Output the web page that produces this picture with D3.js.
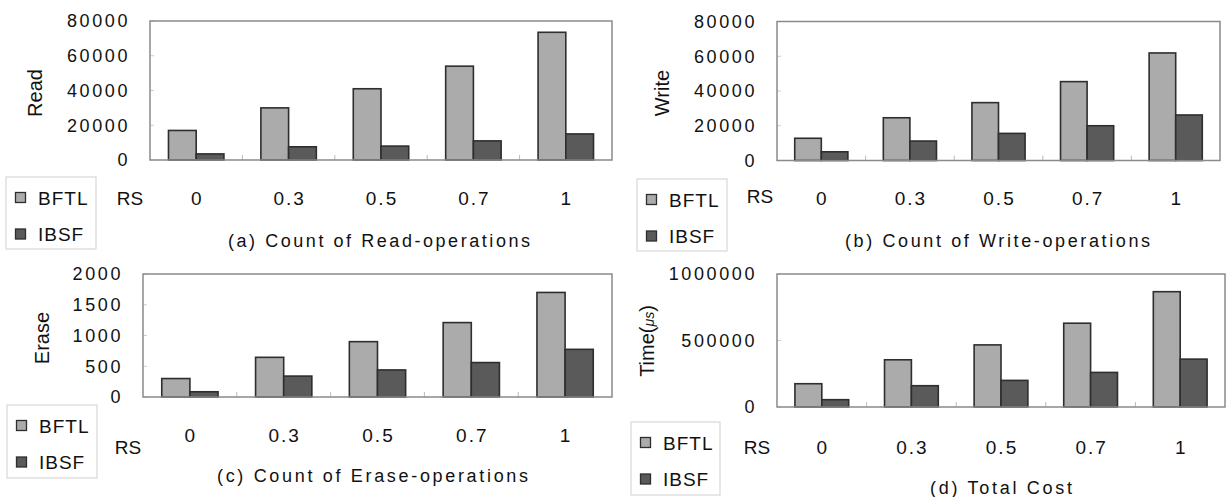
<!DOCTYPE html>
<html>
<head>
<meta charset="utf-8">
<script src="https://cdn.jsdelivr.net/npm/d3@7"></script>
<style>
  body { margin: 0; background: #fff; }
  svg { display: block; }
  text { font-family: "Liberation Sans", Arial, sans-serif; fill: #111; }
</style>
</head>
<body>
<svg width="1226" height="497"></svg>
<script>
const rsLabels = ['0', '0.3', '0.5', '0.7', '1']
const seriesNames = ['BFTL', 'IBSF']

// values
const readBFTL = [17000, 30000, 41000, 54000, 73500]
const readIBSF = [3500, 7600, 8000, 11000, 15000]
const writeBFTL = [12800, 24600, 33300, 45400, 61900]
const writeIBSF = [5000, 11200, 15600, 20000, 26200]
const eraseBFTL = [300, 645, 900, 1210, 1700]
const eraseIBSF = [85, 340, 440, 560, 775]
const timeBFTL = [175000, 355000, 467000, 630000, 867000]
const timeIBSF = [55000, 160000, 200000, 260000, 360000]

const countTicks = [0, 20000, 40000, 60000, 80000]
const eraseTicks = [0, 500, 1000, 1500, 2000]
const timeTicks = [0, 500000, 1000000]

const fills = { BFTL: '#ababab', IBSF: '#5a5a5a' }

const panels = [
  { x0: 150, x1: 612, y0: 21, y1: 160, ticks: countTicks, bftl: readBFTL, ibsf: readIBSF,
    title: 'Read', tx: 35, ty: 93, catY: 198, rsX: 130, rsY: 198,
    legend: { x: 6, y: 177, w: 90, h: 72 },
    caption: '(a) Count of Read-operations', cx0: 228, cx1: 530, cy: 241 },
  { x0: 777, x1: 1220, y0: 21.5, y1: 160.5, ticks: countTicks, bftl: writeBFTL, ibsf: writeIBSF,
    title: 'Write', tx: 662, ty: 93, catY: 198, rsX: 760, rsY: 196,
    legend: { x: 637, y: 179, w: 90, h: 72 },
    caption: '(b) Count of Write-operations', cx0: 845, cx1: 1150, cy: 241 },
  { x0: 143, x1: 612, y0: 274, y1: 397, ticks: eraseTicks, bftl: eraseBFTL, ibsf: eraseIBSF,
    title: 'Erase', tx: 42, ty: 338, catY: 435, rsX: 128, rsY: 447,
    legend: { x: 7, y: 405, w: 90, h: 73 },
    caption: '(c) Count of Erase-operations', cx0: 217, cx1: 528, cy: 476 },
  { x0: 777, x1: 1225, y0: 274, y1: 407, ticks: timeTicks, bftl: timeBFTL, ibsf: timeIBSF,
    title: 'Time', tx: 647, ty: 341, catY: 447, rsX: 757, rsY: 447,
    legend: { x: 631, y: 422, w: 89, h: 73 },
    caption: '(d) Total Cost', cx0: 930, cx1: 1072, cy: 488 }
]

const svg = d3.select('svg')

panels.forEach(p => {
  let g = svg.append('g')

  let x = d3.scaleBand()
            .domain(rsLabels)
            .range([p.x0, p.x1])
            .paddingInner(0.4)
            .paddingOuter(0.2)

  let xs = d3.scaleBand()
             .domain(seriesNames)
             .range([0, x.bandwidth()])

  let y = d3.scaleLinear()
            .domain([0, d3.max(p.ticks)])
            .range([p.y1, p.y0])

  // y axis labels
  let yAxis = d3.axisLeft(y)
                .tickValues(p.ticks)
                .tickSize(0)
                .tickPadding(20)
                .tickFormat(d3.format('d'))

  g.append('g')
      .attr('transform', `translate(${p.x0}, 0)`)
      .call(yAxis)
      .call(a => a.select('.domain').remove())
      .selectAll('text')
        .style('font-family', '"Liberation Sans", Arial, sans-serif')
        .style('font-size', '18px')
        .style('letter-spacing', '2.6px')
        .attr('fill', '#111')

  // small inner ticks on y
  g.selectAll('.ytick')
    .data(p.ticks)
    .enter()
    .append('line')
      .attr('x1', p.x0)
      .attr('x2', p.x0 + 4)
      .attr('y1', d => y(d))
      .attr('y2', d => y(d))
      .attr('stroke', '#ccc')

  // boundary ticks on x
  g.selectAll('.xtick')
    .data(rsLabels.slice(1))
    .enter()
    .append('line')
      .attr('x1', d => x(d) - x.step() * x.paddingInner() / 2)
      .attr('x2', d => x(d) - x.step() * x.paddingInner() / 2)
      .attr('y1', p.y1)
      .attr('y2', p.y1 - 5)
      .attr('stroke', '#bbb')

  // bars
  let rows = rsLabels.map((rs, i) => ({ rs, BFTL: p.bftl[i], IBSF: p.ibsf[i] }))

  g.selectAll('.grp')
    .data(rows)
    .enter()
    .append('g')
      .attr('transform', d => `translate(${x(d.rs)}, 0)`)
    .selectAll('rect')
    .data(d => seriesNames.map(s => ({ s, v: d[s] })))
    .enter()
    .append('rect')
      .attr('x', d => xs(d.s))
      .attr('width', xs.bandwidth())
      .attr('y', d => y(d.v))
      .attr('height', d => p.y1 - y(d.v))
      .attr('fill', d => fills[d.s])
      .attr('stroke', '#2e2e2e')
      .attr('stroke-width', 1.6)

  // plot frame
  g.append('rect')
      .attr('x', p.x0)
      .attr('y', p.y0)
      .attr('width', p.x1 - p.x0)
      .attr('height', p.y1 - p.y0)
      .attr('fill', 'none')
      .attr('stroke', '#8a8a8a')
      .attr('stroke-width', 1.5)

  // category labels
  g.selectAll('.cat')
    .data(rsLabels)
    .enter()
    .append('text')
      .attr('x', d => x(d) + x.bandwidth() / 2 + 1)
      .attr('y', p.catY)
      .attr('dy', '0.35em')
      .style('text-anchor', 'middle')
      .style('font-size', '19px')
      .style('letter-spacing', '2px')
      .text(d => d)

  g.append('text')
      .attr('x', p.rsX)
      .attr('y', p.rsY)
      .attr('dy', '0.35em')
      .style('text-anchor', 'middle')
      .style('font-size', '19px')
      .text('RS')

  // y title
  let t = g.append('text')
      .attr('transform', `translate(${p.tx}, ${p.ty}) rotate(-90)`)
      .attr('dy', '0.35em')
      .style('text-anchor', 'middle')
      .style('font-size', '20px')
      .text(p.title)
  if (p.title === 'Time') {
    t.append('tspan').text('(')
    t.append('tspan')
        .style('font-size', '14px')
        .style('font-style', 'italic')
        .text('μs')
    t.append('tspan').text(')')
  }

  // legend
  let lg = g.append('g')
  lg.append('rect')
      .attr('x', p.legend.x)
      .attr('y', p.legend.y)
      .attr('width', p.legend.w)
      .attr('height', p.legend.h)
      .attr('fill', '#fff')
      .attr('stroke', '#cfcfcf')

  seriesNames.forEach((s, i) => {
    let cy = p.legend.y + 21 + i * 36.5
    lg.append('rect')
        .attr('x', p.legend.x + 9.5)
        .attr('y', cy - 5.5)
        .attr('width', 10)
        .attr('height', 10)
        .attr('fill', fills[s])
        .attr('stroke', '#2e2e2e')
        .attr('stroke-width', 1.3)
    lg.append('text')
        .attr('x', p.legend.x + 32)
        .attr('y', cy)
        .attr('dy', '0.35em')
        .style('font-size', '19px')
        .style('letter-spacing', '1px')
        .text(s)
  })

  // caption
  g.append('text')
      .attr('x', p.cx0)
      .attr('y', p.cy)
      .attr('dy', '0.35em')
      .attr('textLength', p.cx1 - p.cx0)
      .attr('lengthAdjust', 'spacing')
      .style('font-size', '18px')
      .text(p.caption)
})
</script>
</body>
</html>
